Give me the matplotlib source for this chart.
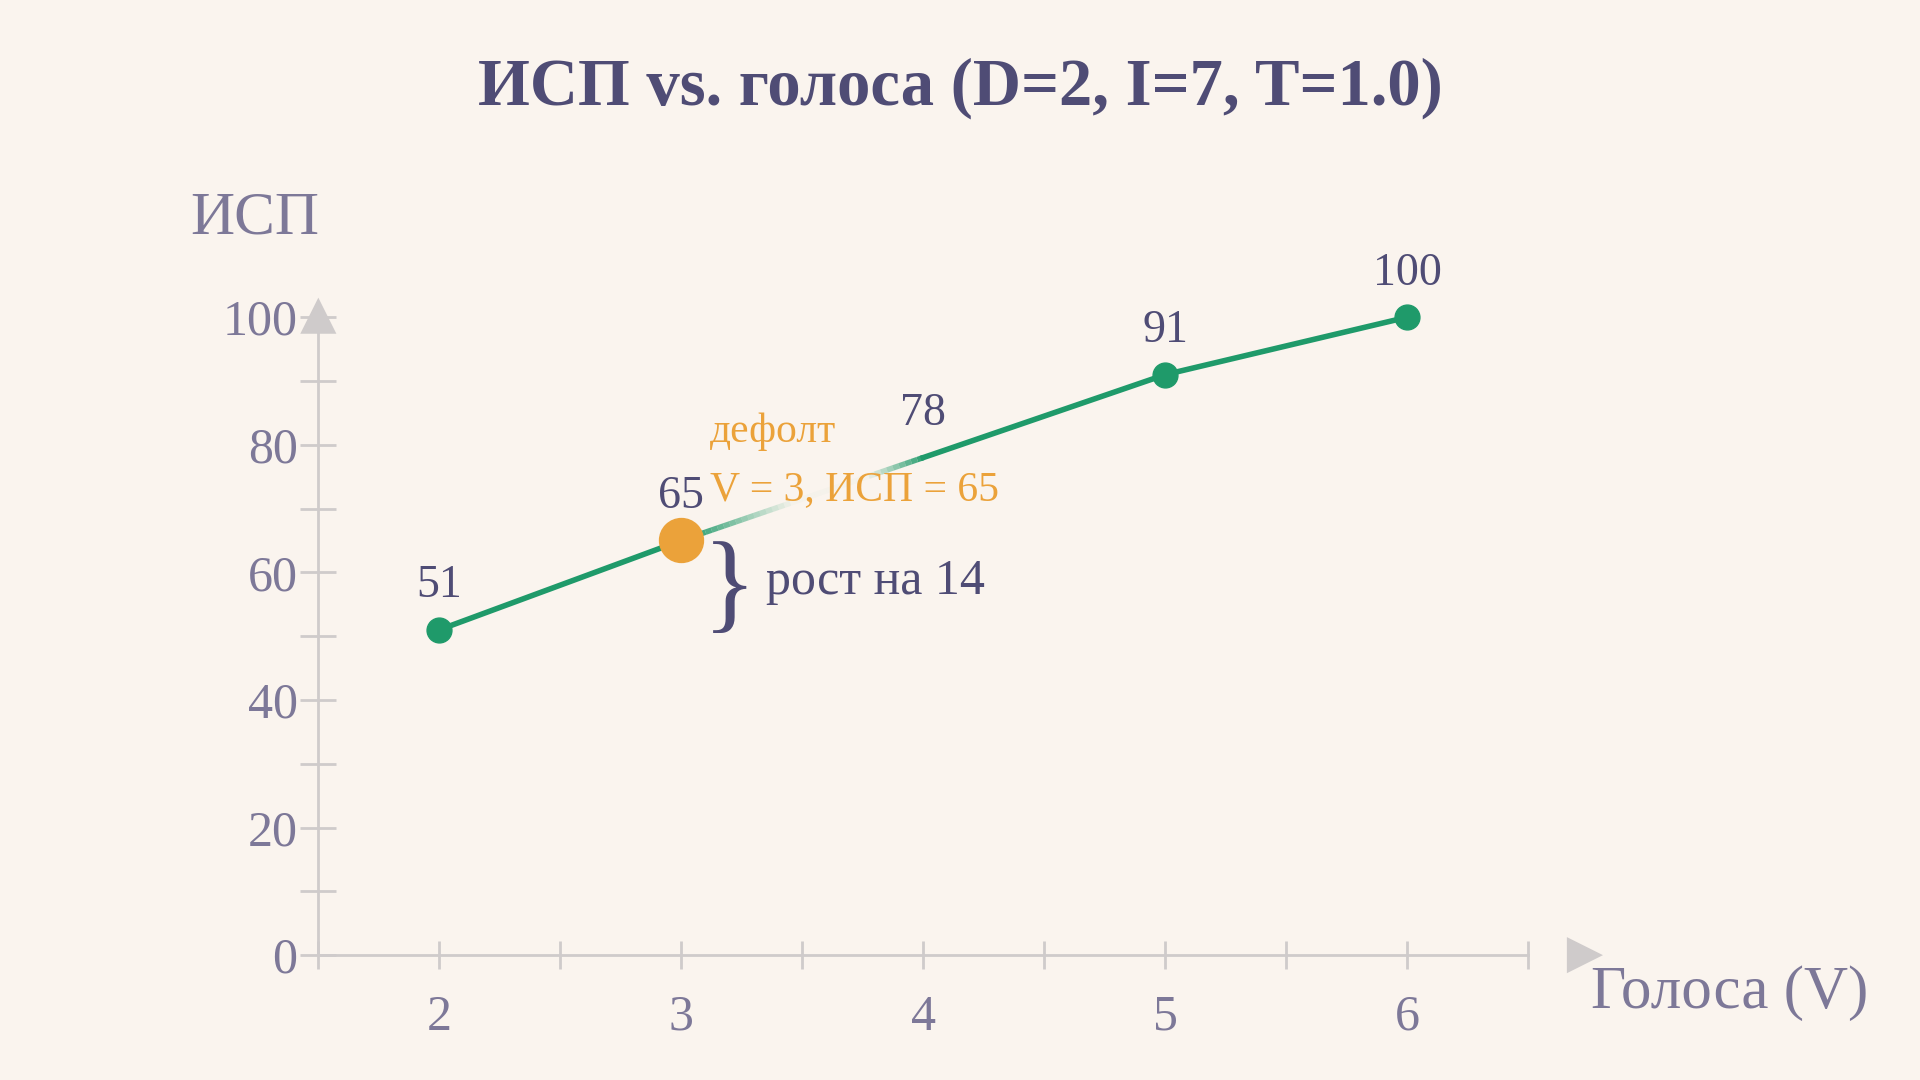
import matplotlib
matplotlib.use("Agg")
import matplotlib.pyplot as plt
import numpy as np

votes = [2, 3, 4, 5, 6]
isp = [51, 65, 78, 91, 100]
default_v, default_isp = 3, 65
yticks = [0, 20, 40, 60, 80, 100]

bg = "#faf4ee"
green = "#1f9a6a"
orange = "#eba23a"
dark = "#4f4c75"
grey = "#7d7898"
axc = "#cfcbcb"

plt.rcParams['font.family'] = ['Liberation Serif', 'DejaVu Serif']
fig = plt.figure(figsize=(19.2, 10.8), dpi=100, facecolor=bg)
ax = fig.add_axes([0.1658, 0.1156, 0.6302, 0.5907], facecolor=bg)
ax.set_xlim(1.5, 6.5)
ax.set_ylim(0, 100)
for s in ["top", "right"]:
    ax.spines[s].set_visible(False)
for s in ["left", "bottom"]:
    ax.spines[s].set_color(axc); ax.spines[s].set_linewidth(2)

ax.set_xticks(votes)
ax.set_xticks(np.arange(1.5, 6.51, 0.5), minor=True)
ax.set_yticks(yticks)
ax.set_yticks(np.arange(0, 101, 10), minor=True)
ax.tick_params(axis='both', which='both', color=axc, width=2, labelsize=36, labelcolor=grey)
ax.tick_params(axis='x', which='both', direction='inout', length=20, pad=18)
ax.tick_params(axis='y', which='both', direction='inout', length=26, pad=2)

# arrows
ax.annotate("", xy=(6.82, 0), xytext=(6.5, 0), xycoords='data',
            arrowprops=dict(arrowstyle="-|>,head_length=2.6,head_width=1.3", color=axc, lw=0), annotation_clip=False)
ax.annotate("", xy=(1.5, 103.5), xytext=(1.5, 100.5), xycoords='data',
            arrowprops=dict(arrowstyle="-|>,head_length=2.6,head_width=1.3", color=axc, lw=0), annotation_clip=False)

# line with faded segment 3->4
for i in range(len(votes) - 1):
    if votes[i] == 3:
        n = 40
        xs = np.linspace(votes[i], votes[i+1], n + 1)
        ys = np.linspace(isp[i], isp[i+1], n + 1)
        for k in range(n):
            t = k / n
            a = 1 - 2.2 * t if t < 0.45 else (t - 0.75) * 4
            a = max(0.02, min(1, a))
            ax.plot(xs[k:k+2], ys[k:k+2], color=green, lw=4, alpha=a, solid_capstyle='butt', zorder=2)
    else:
        ax.plot(votes[i:i+2], isp[i:i+2], color=green, lw=4, zorder=2)

for v, y in zip(votes, isp):
    if v == default_v:
        ax.scatter(v, y, s=1000, color=orange, zorder=4, clip_on=False)
    elif v == 4:
        pass
    else:
        ax.scatter(v, y, s=320, color=green, zorder=4, clip_on=False)
    ax.text(v, y + 3.5, str(y), ha='center', va='bottom', fontsize=33, color=dark, zorder=5)

ax.text(3.12, 82, "дефолт", color=orange, fontsize=30, ha='left', va='center')
ax.text(3.12, 73, "V = 3, ИСП = 65", color=orange, fontsize=30, ha='left', va='center')
ax.text(3.2, 57, "}", color=dark, fontsize=80, ha='center', va='center')
ax.text(3.35, 58.5, "рост на 14", color=dark, fontsize=36, ha='left', va='center')

fig.text(0.099, 0.797, "ИСП", color=grey, fontsize=44, ha='left', va='center')
fig.text(0.973, 0.08, "Голоса (V)", color=grey, fontsize=44, ha='right', va='center')
fig.text(0.5, 0.918, "ИСП vs. голоса (D=2, I=7, T=1.0)", color=dark, fontsize=48,
         fontweight='bold', ha='center', va='center')

fig.savefig("out.png", dpi=100, facecolor=bg)
